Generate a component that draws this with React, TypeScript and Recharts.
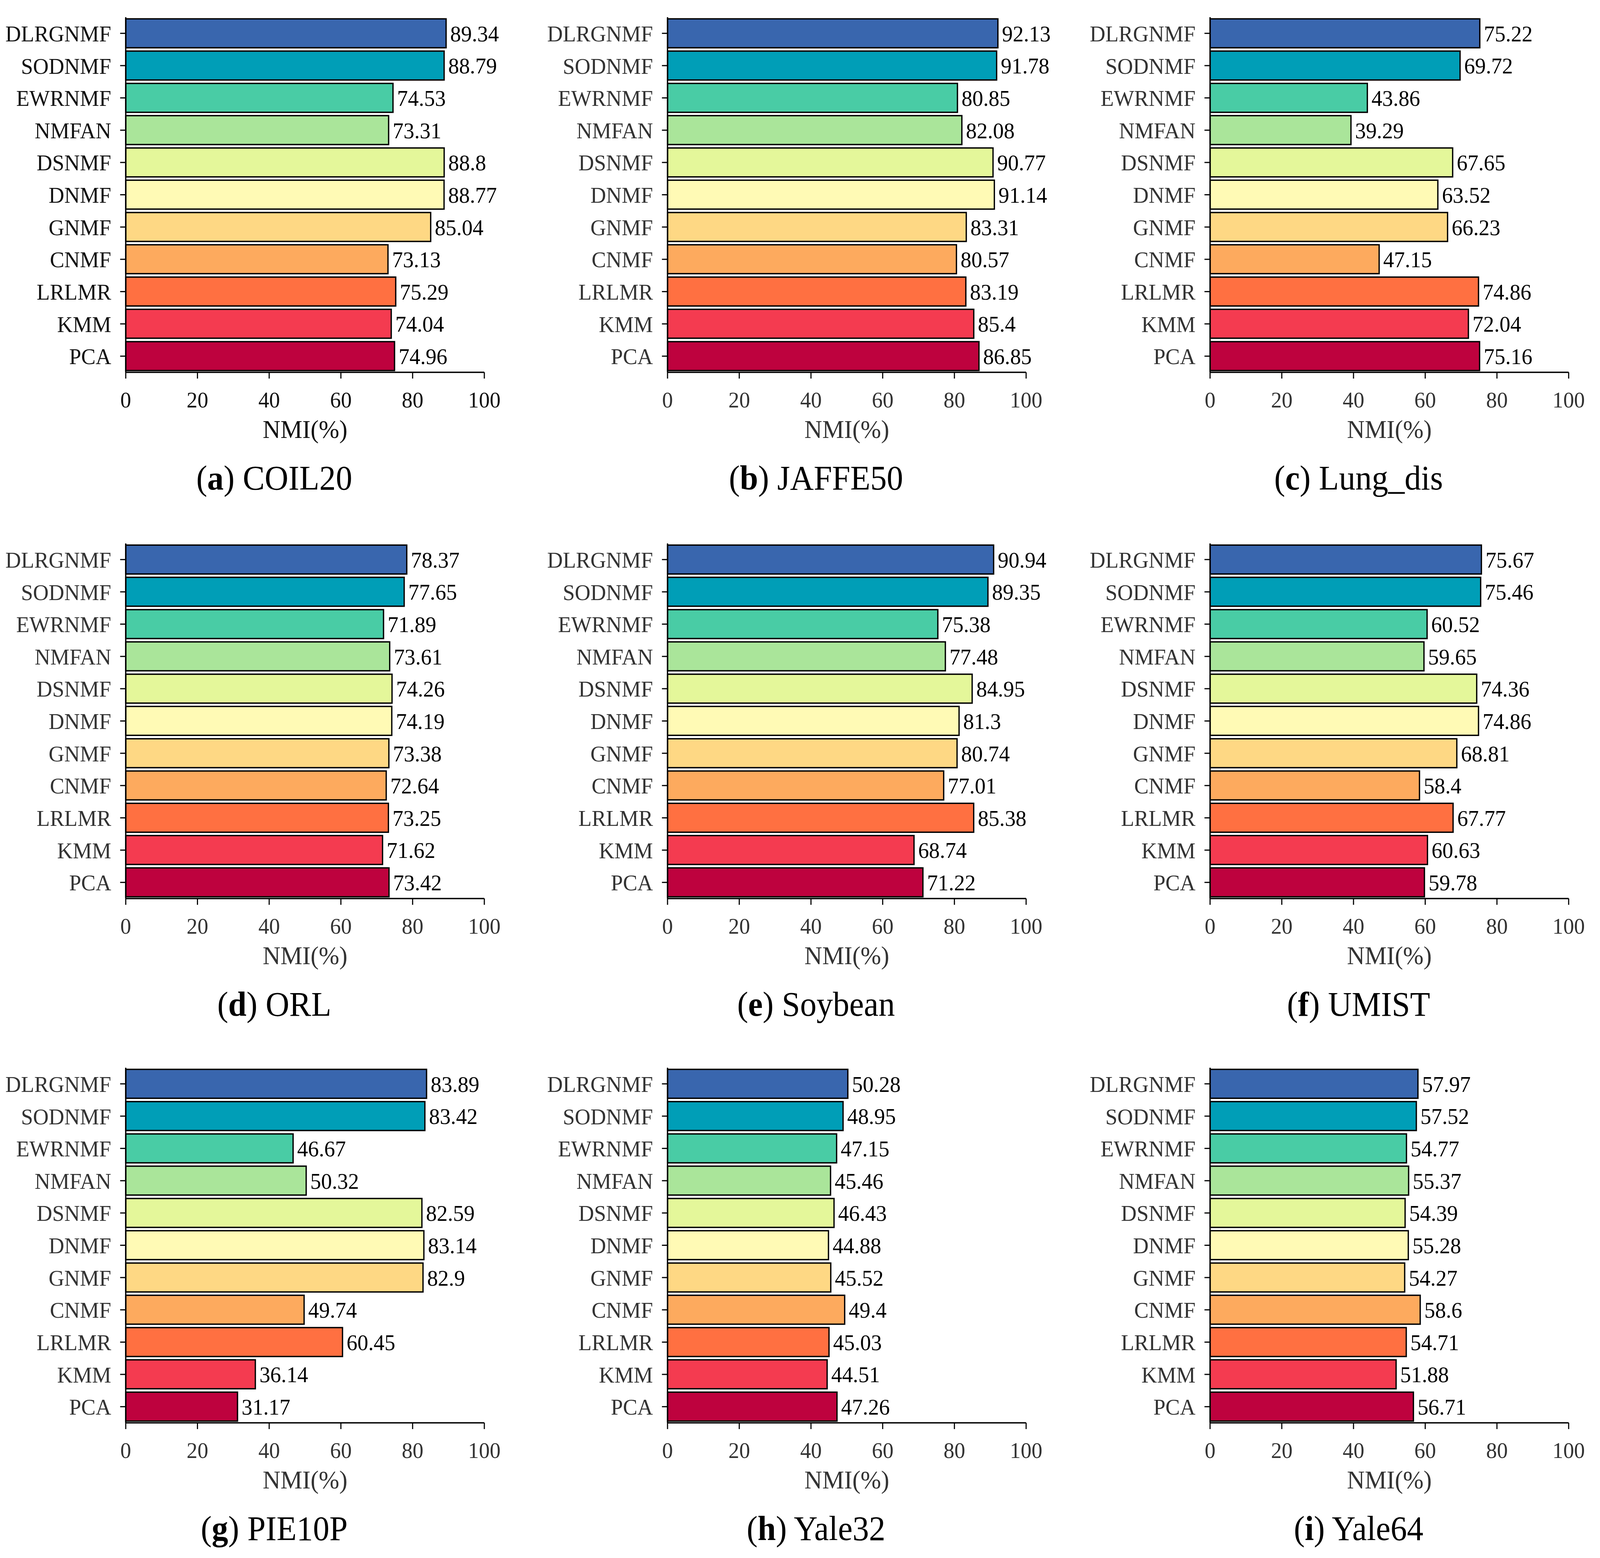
import React from "react";
import { BarChart, Bar, XAxis, YAxis, Cell, LabelList } from "recharts";

const METHODS = ["DLRGNMF", "SODNMF", "EWRNMF", "NMFAN", "DSNMF", "DNMF", "GNMF", "CNMF", "LRLMR", "KMM", "PCA"];
const COLORS = ["#3966AE", "#009EB7", "#49CCA5", "#AAE59A", "#E4F79A", "#FFFAB5", "#FED884", "#FDAA5E", "#FF7041", "#F43B50", "#BE023E"];
const X_TICKS = [0, 20, 40, 60, 80, 100];

const COIL20 = [89.34, 88.79, 74.53, 73.31, 88.8, 88.77, 85.04, 73.13, 75.29, 74.04, 74.96];
const JAFFE50 = [92.13, 91.78, 80.85, 82.08, 90.77, 91.14, 83.31, 80.57, 83.19, 85.4, 86.85];
const LUNG_DIS = [75.22, 69.72, 43.86, 39.29, 67.65, 63.52, 66.23, 47.15, 74.86, 72.04, 75.16];
const ORL = [78.37, 77.65, 71.89, 73.61, 74.26, 74.19, 73.38, 72.64, 73.25, 71.62, 73.42];
const SOYBEAN = [90.94, 89.35, 75.38, 77.48, 84.95, 81.3, 80.74, 77.01, 85.38, 68.74, 71.22];
const UMIST = [75.67, 75.46, 60.52, 59.65, 74.36, 74.86, 68.81, 58.4, 67.77, 60.63, 59.78];
const PIE10P = [83.89, 83.42, 46.67, 50.32, 82.59, 83.14, 82.9, 49.74, 60.45, 36.14, 31.17];
const YALE32 = [50.28, 48.95, 47.15, 45.46, 46.43, 44.88, 45.52, 49.4, 45.03, 44.51, 47.26];
const YALE64 = [57.97, 57.52, 54.77, 55.37, 54.39, 55.28, 54.27, 58.6, 54.71, 51.88, 56.71];

const PANELS = [
  { letter: "a", name: "COIL20", values: COIL20 },
  { letter: "b", name: "JAFFE50", values: JAFFE50 },
  { letter: "c", name: "Lung_dis", values: LUNG_DIS },
  { letter: "d", name: "ORL", values: ORL },
  { letter: "e", name: "Soybean", values: SOYBEAN },
  { letter: "f", name: "UMIST", values: UMIST },
  { letter: "g", name: "PIE10P", values: PIE10P },
  { letter: "h", name: "Yale32", values: YALE32 },
  { letter: "i", name: "Yale64", values: YALE64 },
];

const FONT = "'Liberation Serif', 'Times New Roman', serif";
const PAGE_W = 4288;
const PAGE_H = 3988;
const COL_X = [0, 1452, 2906];
const ROW_Y = [0, 1347, 2689];
const PANEL_W = 1452;
const CHART_H = 1150;

function Panel({ letter, name, values, dark }: { letter: string; name: string; values: number[]; dark: boolean }) {
  const data = METHODS.map((m, i) => ({ name: m, value: values[i] }));
  const textColor = dark ? "#111111" : "#333333";

  return (
    <div style={{ position: "relative", width: PANEL_W, height: 1340 }}>
      <BarChart
        width={PANEL_W}
        height={CHART_H}
        data={data}
        layout="vertical"
        margin={{ top: 44, right: 154, left: 0, bottom: 29 }}
        barCategoryGap="5%"
        style={{ fontFamily: FONT }}
      >
        <XAxis
          type="number"
          domain={[0, 100]}
          ticks={X_TICKS}
          interval={0}
          height={168}
          tickSize={16}
          tickMargin={33}
          axisLine={{ stroke: "#000", strokeWidth: 3.5 }}
          tickLine={{ stroke: "#000", strokeWidth: 3 }}
          tick={{ fontSize: 58, fill: textColor, fontFamily: FONT }}
          label={{ value: "NMI(%)", position: "insideBottom", offset: 0, fontSize: 66, fill: textColor, fontFamily: FONT }}
        />
        <YAxis
          type="category"
          dataKey="name"
          width={337}
          interval={0}
          tickSize={15}
          tickMargin={24}
          axisLine={{ stroke: "#000", strokeWidth: 3.5 }}
          tickLine={{ stroke: "#000", strokeWidth: 3 }}
          tick={{ fontSize: 58, fill: textColor, fontFamily: FONT }}
        />
        <Bar dataKey="value" stroke="#000" strokeWidth={3.5} isAnimationActive={false}>
          {data.map((entry, index) => (
            <Cell key={`cell-${index}`} fill={COLORS[index % COLORS.length]} />
          ))}
          <LabelList dataKey="value" position="right" offset={11} fill="#000" fontSize={58} fontFamily={FONT} />
        </Bar>
      </BarChart>
      <svg width={PANEL_W} height={120} style={{ position: "absolute", left: 0, top: 1160 }}>
        <text x={735} y={93} textAnchor="middle" fontSize={88} fontFamily={FONT} fill="#000">
          (<tspan fontWeight="bold">{letter}</tspan>) {name}
        </text>
      </svg>
    </div>
  );
}

export default function App() {
  // the browser viewport can be narrower than the figure, so fit the whole figure into it
  const vw = typeof window !== "undefined" ? window.innerWidth : PAGE_W;
  const vh = typeof window !== "undefined" ? window.innerHeight : PAGE_H;
  const sx = Math.min(1, vw / PAGE_W);
  const sy = Math.min(1, vh / PAGE_H);

  return (
    <div
      style={{
        position: "absolute",
        left: 0,
        top: 0,
        width: PAGE_W,
        height: PAGE_H,
        background: "#fff",
        overflow: "hidden",
        transform: `scale(${sx}, ${sy})`,
        transformOrigin: "0 0",
      }}
    >
      {PANELS.map((p, i) => (
        <div key={p.name} style={{ position: "absolute", left: COL_X[i % 3], top: ROW_Y[Math.floor(i / 3)] }}>
          <Panel letter={p.letter} name={p.name} values={p.values} dark={i === 0} />
        </div>
      ))}
    </div>
  );
}
